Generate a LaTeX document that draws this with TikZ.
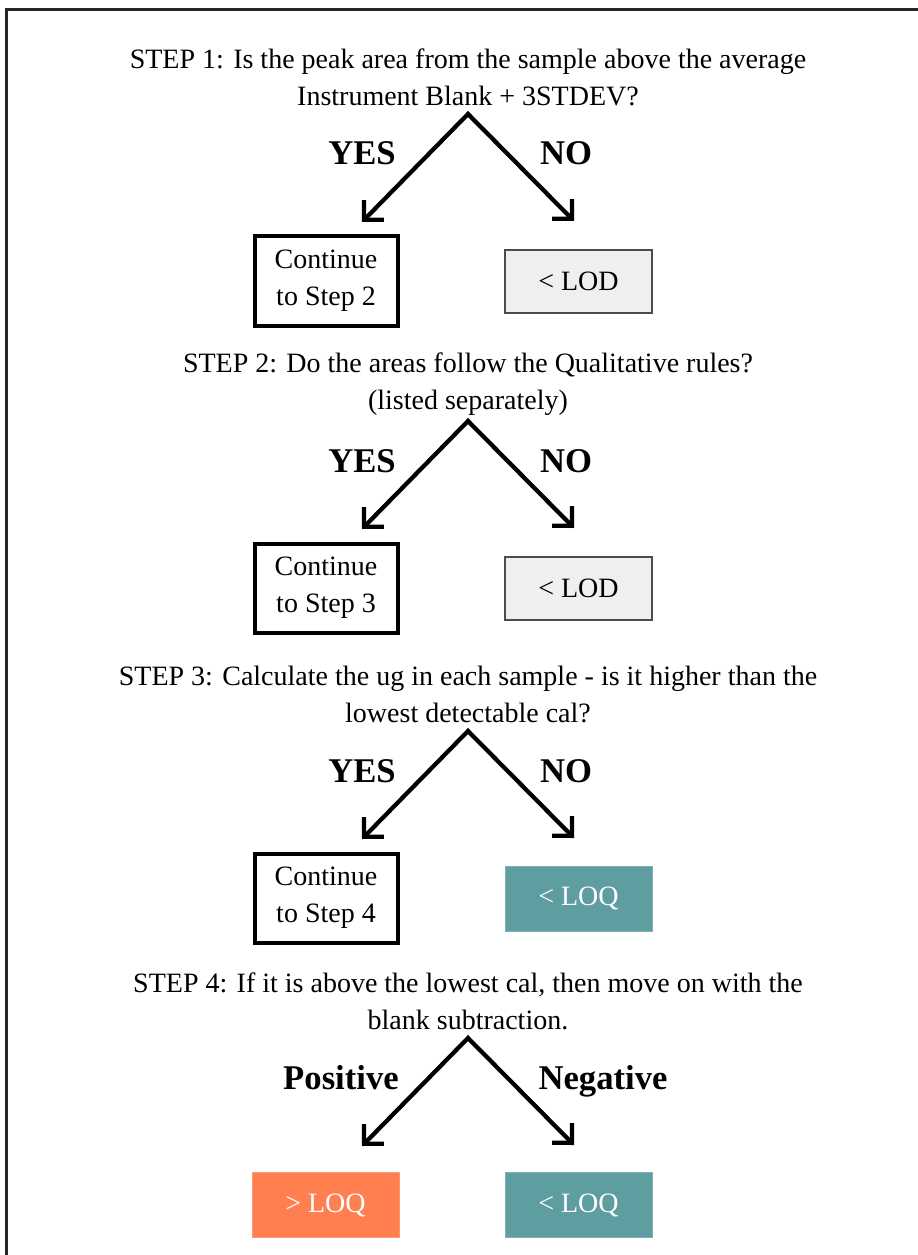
\documentclass[tikz,border=0pt]{standalone}
\usepackage{fontspec}
\setmainfont{Liberation Serif}
\usetikzlibrary{arrows.meta}
\definecolor{lodgray}{HTML}{EFEFEF}
\definecolor{loqteal}{HTML}{5F9EA0}
\definecolor{gtqcoral}{HTML}{FF7F50}
\begin{document}
\begin{tikzpicture}[x=0.75pt,y=-0.75pt,
  steptitle/.style={font=\fontsize{21}{27.75}\selectfont, align=center, inner sep=0pt},
  answer/.style={font=\fontsize{26}{30}\selectfont\bfseries, inner sep=0pt, anchor=base},
  contbox/.style={draw=black, line width=3pt, font=\fontsize{21}{27.75}\selectfont, align=center,
    minimum width=107.25pt, minimum height=66.75pt, inner sep=0pt},
  lodbox/.style={draw=black!70, fill=lodgray, line width=0.9pt, font=\fontsize{21}{25}\selectfont,
    minimum width=110.25pt, minimum height=47.25pt, inner sep=0pt},
  loqbox/.style={fill=loqteal, draw=loqteal!80!white, line width=0.5pt, text=white, font=\fontsize{21}{25}\selectfont,
    minimum width=110.25pt, minimum height=48.75pt, inner sep=0pt},
  gtqbox/.style={fill=gtqcoral, draw=gtqcoral!80!white, line width=0.5pt, text=white, font=\fontsize{21}{25}\selectfont,
    minimum width=110.25pt, minimum height=48.75pt, inner sep=0pt},
  branch/.style={line width=3.2pt, line join=miter,
    {Straight Barb[length=10.5pt,width=21pt]}-{Straight Barb[length=10.5pt,width=21pt]}},
]
\useasboundingbox (0,0) rectangle (917,1255);
% frame (top and left edges only)
\draw[line width=1.6pt, black!85] (6.5,1256) -- (6.5,9.5) -- (918,9.5);

% ---------- STEP 1 ----------
\node[steptitle] (t1) at (468,77) {STEP 1: Is the peak area from the sample above the average\\Instrument Blank + 3STDEV?};
\coordinate (a1) at (468,114);
\coordinate (l1) at (362,222);
\coordinate (r1) at (574,221);
\draw[branch] (l1) -- (a1) -- (r1);
\node[answer] (y1) at (362,165) {YES};
\node[answer] (n1) at (566,165) {NO};
\node[contbox] (c1) at (326,281) {Continue\\to Step 2};
\node[lodbox] (d1) at (578.5,281.5) {< LOD};

% ---------- STEP 2 ----------
\node[steptitle] (t2) at (468,384) {STEP 2: Do the areas follow the Qualitative rules?\\(listed separately)};
\coordinate (a2) at (468,421);
\coordinate (l2) at (362,529);
\coordinate (r2) at (574,528);
\draw[branch] (l2) -- (a2) -- (r2);
\node[answer] (y2) at (362,472) {YES};
\node[answer] (n2) at (566,472) {NO};
\node[contbox] (c2) at (326,588) {Continue\\to Step 3};
\node[lodbox] (d2) at (578.5,588.5) {< LOD};

% ---------- STEP 3 ----------
\node[steptitle] (t3) at (468,694) {STEP 3: Calculate the ug in each sample - is it higher than the\\lowest detectable cal?};
\coordinate (a3) at (468,731);
\coordinate (l3) at (362,839);
\coordinate (r3) at (574,838);
\draw[branch] (l3) -- (a3) -- (r3);
\node[answer] (y3) at (362,782) {YES};
\node[answer] (n3) at (566,782) {NO};
\node[contbox] (c3) at (326,898) {Continue\\to Step 4};
\node[loqbox] (q3) at (578.5,898.5) {< LOQ};

% ---------- STEP 4 ----------
\node[steptitle] (t4) at (468,1001) {STEP 4: If it is above the lowest cal, then move on with the\\blank subtraction.};
\coordinate (a4) at (468,1038);
\coordinate (l4) at (362,1146);
\coordinate (r4) at (574,1145);
\draw[branch] (l4) -- (a4) -- (r4);
\node[answer] (p4) at (341,1089) {Positive};
\node[answer] (g4) at (603,1089) {Negative};
\node[gtqbox] (pos) at (325.5,1205) {> LOQ};
\node[loqbox] (neg) at (578.5,1205) {< LOQ};
\end{tikzpicture}
\end{document}
